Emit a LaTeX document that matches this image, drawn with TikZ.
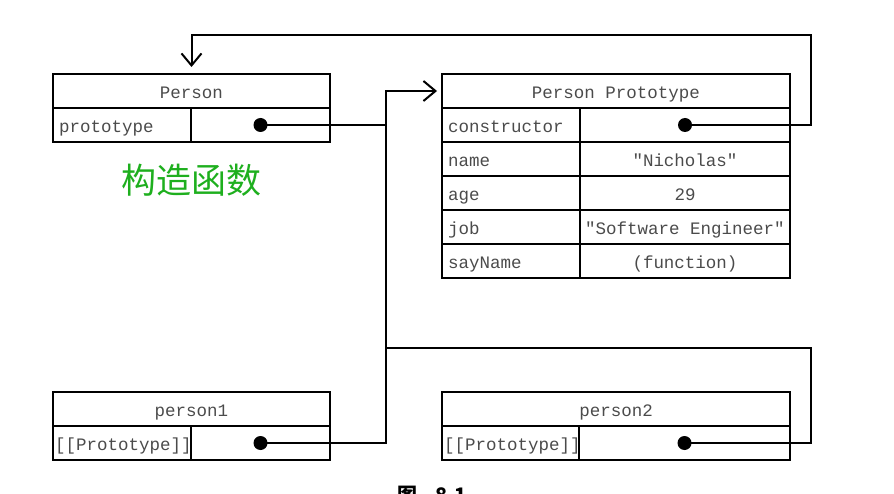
\documentclass[tikz,border=0pt]{standalone}
\usepackage{fontspec}
\setmonofont{Liberation Mono}
\newfontfamily\cjk{Noto Sans CJK SC}
\usetikzlibrary{arrows.meta}
\definecolor{labelgreen}{RGB}{30,175,30}
\definecolor{celltext}{RGB}{75,75,75}
\begin{document}
\begin{tikzpicture}[x=1pt,y=-1pt,
  cell/.style={draw=black,line width=1.6pt,rectangle,inner sep=0pt,outer sep=0pt,
    minimum height=34pt,anchor=north west,font=\ttfamily\fontsize{17.5}{20}\selectfont,
    text=celltext,text height=15pt,text depth=0pt},
  keycell/.style={cell,minimum width=138pt,align=left,text width=126pt},
  dot/.style={circle,fill=black,inner sep=0pt,minimum size=14pt},
  conn/.style={line width=2pt},
  tip/.style={-{Straight Barb[length=12pt,width=20pt,line width=2pt]}}]
\useasboundingbox (0,0) rectangle (894,494);

% Person (constructor)
\node[cell,minimum width=277pt] (ph) at (53,74) {Person};
\node[keycell] (pk) at (53,108) {prototype};
\node[cell,minimum width=139pt] (pv) at (191,108) {};

% Person Prototype
\node[cell,minimum width=348pt] (pph) at (442,74) {Person Prototype};
\node[keycell] (k1) at (442,108) {constructor};
\node[cell,minimum width=210pt] (v1) at (580,108) {};
\node[keycell] (k2) at (442,142) {name};
\node[cell,minimum width=210pt] (v2) at (580,142) {"Nicholas"};
\node[keycell] (k3) at (442,176) {age};
\node[cell,minimum width=210pt] (v3) at (580,176) {29};
\node[keycell] (k4) at (442,210) {job};
\node[cell,minimum width=210pt] (v4) at (580,210) {"Software Engineer"};
\node[keycell] (k5) at (442,244) {sayName};
\node[cell,minimum width=210pt] (v5) at (580,244) {(function)};

% person1
\node[cell,minimum width=277pt] (p1h) at (53,392) {person1};
\node[keycell,text width=134pt] (p1k) at (53,426) {[[Prototype]]};
\node[cell,minimum width=139pt] (p1v) at (191,426) {};

% person2
\node[cell,minimum width=348pt] (p2h) at (442,392) {person2};
\node[keycell,minimum width=137pt,text width=133pt] (p2k) at (442,426) {[[Prototype]]};
\node[cell,minimum width=211pt] (p2v) at (579,426) {};

% pointer dots
\node[dot] (d0) at (pv.center) {};
\node[dot] (d1) at (v1.center) {};
\node[dot] (d2) at (p1v.center) {};
\node[dot] (d3) at (p2v.center) {};

% routing points
\coordinate (bus) at (386,91);
\coordinate (rtop) at (811,35);
\coordinate (rmid) at (811,348);

% connectors
\draw[conn] (d0.center) -- (d0.center -| bus);
\draw[conn,tip,shorten >=5pt] (d2.center) -| (bus) -- (pph.west);
\draw[conn] (d3.center) -| (rmid) -- (rmid -| bus);
\draw[conn,tip,shorten >=7pt] (d1.center) -| (rtop) -| (ph.north);

% labels
\node[text=labelgreen,font=\cjk\fontsize{35}{40}\selectfont] (lbl) at (191,180) {构造函数};
\node[anchor=base,font=\cjk\bfseries\fontsize{20}{24}\selectfont] (cap) at (432,502) {图\hspace{18pt}8.1};
\end{tikzpicture}
\end{document}
